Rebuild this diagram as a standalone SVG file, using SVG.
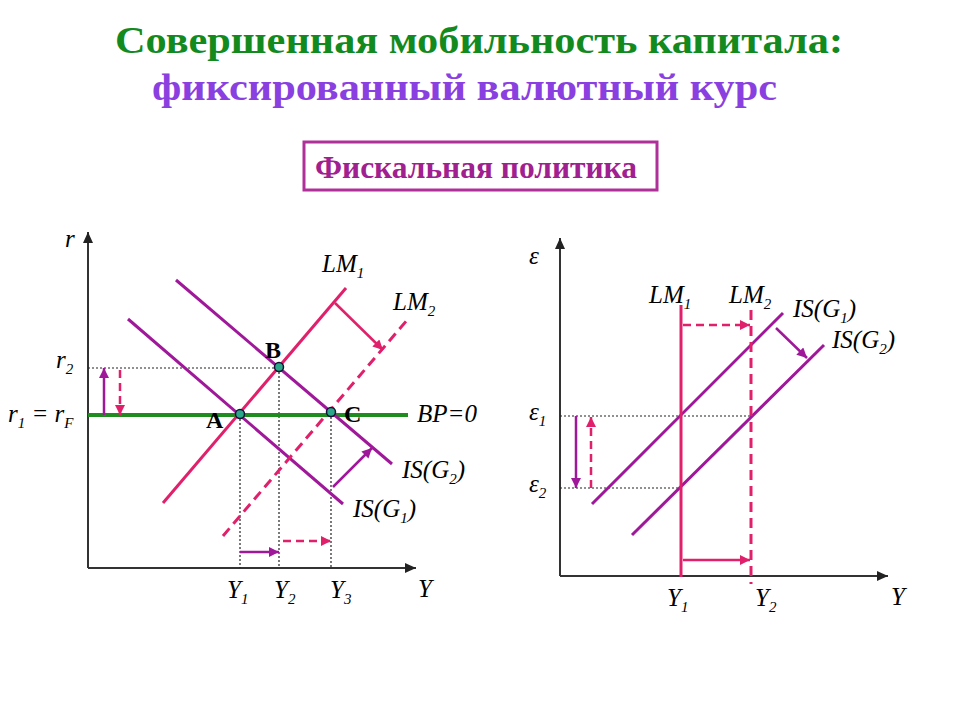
<svg xmlns="http://www.w3.org/2000/svg" width="960" height="720" viewBox="0 0 960 720">
<style>
.title{font-family:"Liberation Serif","Tinos","DejaVu Serif","Noto Serif",serif;font-weight:bold}
.lbl{font-family:"Liberation Serif","Tinos","DejaVu Serif","Noto Serif",serif;font-style:italic;font-size:25px;fill:#000}
.pt{font-family:"Liberation Serif","Tinos","DejaVu Serif","Noto Serif",serif;font-weight:bold;font-size:24px;fill:#000}
.sub{font-size:15px}
.axis{stroke:#333;stroke-width:2;fill:none}
.dot{stroke:#222;stroke-width:1.2;stroke-dasharray:2 2;fill:none}
.lm{stroke:#E0206A;stroke-width:3;fill:none}
.lmd{stroke:#E0206A;stroke-width:3;fill:none;stroke-dasharray:10 6}
.is{stroke:#A0189A;stroke-width:3;fill:none}
.bp{stroke:#1E8C1E;stroke-width:4;fill:none}
.ap{stroke:#E0206A;stroke-width:2.5;fill:none;marker-end:url(#hp)}
.apd{stroke:#E0206A;stroke-width:2.5;fill:none;stroke-dasharray:8 5;marker-end:url(#hp)}
.av{stroke:#A0189A;stroke-width:2.5;fill:none;marker-end:url(#hv)}
.eq{fill:#2AA889;stroke:#113;stroke-width:1.5}
</style>
<defs>
<marker id="ha" markerUnits="userSpaceOnUse" markerWidth="12" markerHeight="12" refX="11" refY="5" orient="auto"><path d="M0,0 L11,5 L0,10 Z" fill="#222"/></marker>
<marker id="hp" markerUnits="userSpaceOnUse" markerWidth="12" markerHeight="12" refX="10" refY="5" orient="auto"><path d="M0,0 L10,5 L0,10 Z" fill="#E0206A"/></marker>
<marker id="hv" markerUnits="userSpaceOnUse" markerWidth="12" markerHeight="12" refX="10" refY="5" orient="auto"><path d="M0,0 L10,5 L0,10 Z" fill="#A0189A"/></marker>
</defs>
<rect width="960" height="720" fill="#fff"/>
<g id="title">
<text class="title" x="115" y="53" font-size="38" fill="#128A1E" textLength="728" lengthAdjust="spacingAndGlyphs">Совершенная мобильность капитала:</text>
<text class="title" x="152" y="100" font-size="38" fill="#8A3FE0" textLength="625" lengthAdjust="spacingAndGlyphs">фиксированный валютный курс</text>
</g>
<g id="fiscal-box">
<rect x="304" y="142" width="353" height="48" fill="#fff" stroke="#B0309A" stroke-width="3"/>
<text class="title" x="315" y="178" font-size="31" fill="#A0208F" textLength="322" lengthAdjust="spacingAndGlyphs">Фискальная политика</text>
</g>
<g id="left-chart">
<g id="left-axes">
<line class="axis" x1="88" y1="568" x2="88" y2="232" marker-end="url(#ha)"/>
<line class="axis" x1="88" y1="568" x2="416" y2="568" marker-end="url(#ha)"/>
</g>
<g id="left-guides">
<line class="dot" x1="88" y1="368" x2="279" y2="368"/>
<line class="dot" x1="240" y1="415" x2="240" y2="568"/>
<line class="dot" x1="279" y1="368" x2="279" y2="568"/>
<line class="dot" x1="331" y1="413" x2="331" y2="568"/>
</g>
<g id="left-curves">
<line id="BP" class="bp" x1="88" y1="415" x2="408" y2="415"/>
<line id="IS-G1" class="is" x1="128" y1="319" x2="343" y2="504"/>
<line id="IS-G2" class="is" x1="176" y1="280" x2="392" y2="464"/>
<line id="LM1" class="lm" x1="163" y1="503" x2="346" y2="288"/>
<line id="LM2" class="lmd" x1="223" y1="536" x2="408" y2="319"/>
</g>
<g id="left-connectors">
<line class="av" x1="104" y1="415" x2="104" y2="368"/>
<line class="apd" x1="120" y1="370" x2="120" y2="415"/>
<line class="ap" x1="335" y1="303" x2="383" y2="350"/>
<line class="av" x1="333" y1="487" x2="372" y2="448"/>
<line class="av" x1="240" y1="552" x2="279" y2="552"/>
<line class="apd" x1="283" y1="541" x2="331" y2="541"/>
</g>
<g id="left-points">
<circle id="A" class="eq" cx="240" cy="414" r="4.5"/>
<circle id="B" class="eq" cx="279" cy="367" r="4.5"/>
<circle id="C" class="eq" cx="331" cy="412" r="4.5"/>
</g>
<g id="left-labels">
<text class="lbl" x="65" y="247">r</text>
<text class="lbl" x="322" y="272">LM<tspan class="sub" dy="6">1</tspan></text>
<text class="lbl" x="393" y="310">LM<tspan class="sub" dy="6">2</tspan></text>
<text class="pt" x="265" y="358">B</text>
<text class="pt" x="206" y="428">A</text>
<text class="pt" x="344" y="422">C</text>
<text class="lbl" x="56" y="368">r<tspan class="sub" dy="6">2</tspan></text>
<text class="lbl" x="8" y="422">r<tspan class="sub" dy="6">1</tspan><tspan dy="-6"> = r</tspan><tspan class="sub" dy="6">F</tspan></text>
<text class="lbl" x="417" y="422">BP=0</text>
<text class="lbl" x="402" y="478">IS(G<tspan class="sub" dy="6">2</tspan><tspan dy="-6">)</tspan></text>
<text class="lbl" x="353" y="517">IS(G<tspan class="sub" dy="6">1</tspan><tspan dy="-6">)</tspan></text>
<text class="lbl" x="227" y="598">Y<tspan class="sub" dy="6">1</tspan></text>
<text class="lbl" x="274" y="598">Y<tspan class="sub" dy="6">2</tspan></text>
<text class="lbl" x="330" y="598">Y<tspan class="sub" dy="6">3</tspan></text>
<text class="lbl" x="418" y="597">Y</text>
</g>
</g>
<g id="right-chart">
<g id="right-axes">
<line class="axis" x1="560" y1="576" x2="560" y2="238" marker-end="url(#ha)"/>
<line class="axis" x1="560" y1="576" x2="888" y2="576" marker-end="url(#ha)"/>
</g>
<g id="right-guides">
<line class="dot" x1="560" y1="416" x2="751" y2="416"/>
<line class="dot" x1="560" y1="488" x2="681" y2="488"/>
</g>
<g id="right-curves">
<line id="IS-G1-r" class="is" x1="592" y1="504" x2="783" y2="313"/>
<line id="IS-G2-r" class="is" x1="632" y1="535" x2="824" y2="345"/>
<line id="LM1-r" class="lm" x1="681" y1="305" x2="681" y2="577"/>
<line id="LM2-r" class="lmd" x1="751" y1="310" x2="751" y2="584"/>
</g>
<g id="right-connectors">
<line class="av" x1="576" y1="416" x2="576" y2="488"/>
<line class="apd" x1="591" y1="488" x2="591" y2="417"/>
<line class="apd" x1="683" y1="325" x2="750" y2="325"/>
<line class="ap" x1="683" y1="560" x2="750" y2="560"/>
<line class="av" x1="776" y1="328" x2="807" y2="358"/>
</g>
<g id="right-labels">
<text class="lbl" x="529" y="264">ε</text>
<text class="lbl" x="649" y="303">LM<tspan class="sub" dy="6">1</tspan></text>
<text class="lbl" x="729" y="303">LM<tspan class="sub" dy="6">2</tspan></text>
<text class="lbl" x="793" y="317">IS(G<tspan class="sub" dy="6">1</tspan><tspan dy="-6">)</tspan></text>
<text class="lbl" x="832" y="348">IS(G<tspan class="sub" dy="6">2</tspan><tspan dy="-6">)</tspan></text>
<text class="lbl" x="529" y="420">ε<tspan class="sub" dy="6">1</tspan></text>
<text class="lbl" x="529" y="492">ε<tspan class="sub" dy="6">2</tspan></text>
<text class="lbl" x="667" y="606">Y<tspan class="sub" dy="6">1</tspan></text>
<text class="lbl" x="755" y="606">Y<tspan class="sub" dy="6">2</tspan></text>
<text class="lbl" x="891" y="605">Y</text>
</g>
</g>
</svg>
